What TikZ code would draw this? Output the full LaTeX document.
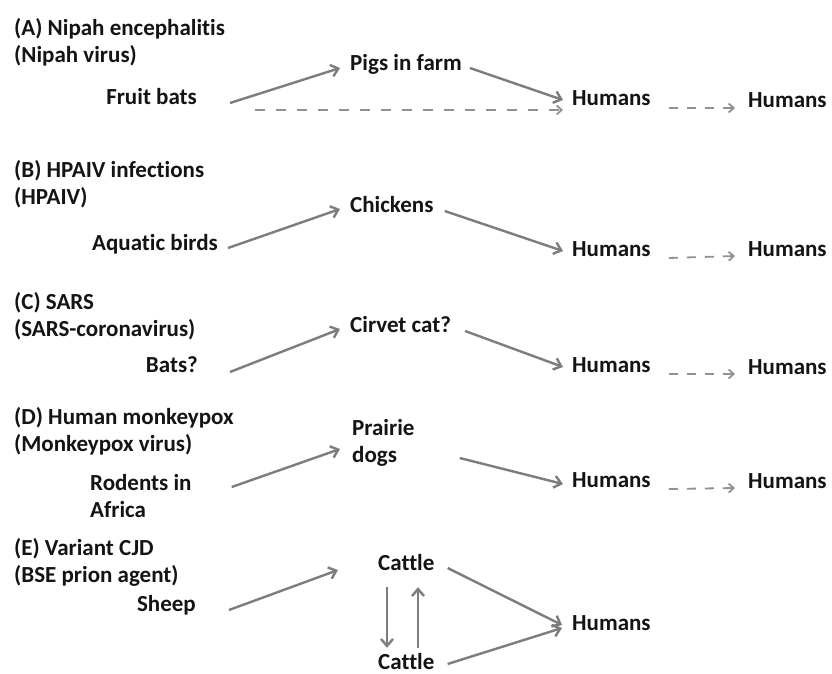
\documentclass[tikz,border=0pt]{standalone}
\usepackage{fontspec}
\setmainfont{Carlito}[Ligatures={NoCommon}]
\usepackage{tikz}
\usetikzlibrary{arrows.meta}
\definecolor{arrgray}{RGB}{125,125,125}
\definecolor{txtdark}{RGB}{20,20,20}
\tikzset{
  lbl/.style={inner sep=0pt,text=txtdark,font=\fontsize{23}{27}\selectfont\bfseries,
              text height=15pt,text depth=5pt},
  lbltwo/.style={inner sep=0pt,text=txtdark,font=\fontsize{23}{27}\selectfont\bfseries,align=left},
  arr/.style={-{Straight Barb[length=7pt,width=12pt]},line width=2.4pt,arrgray},
  dasharr/.style={-{Straight Barb[length=5pt,width=9pt]},line width=1.8pt,arrgray!85,
                  dash pattern=on 9pt off 9pt}
}

\begin{document}
\begin{tikzpicture}[x=1pt,y=-1pt]
  \fill[white] (0,0) rectangle (832,674);
  \useasboundingbox (0,0) rectangle (832,674);
  % (A)
  \node[lbltwo,anchor=west] (titA) at (14,42) {(A) Nipah encephalitis\\(Nipah virus)};
  \node[lbl,anchor=east] (batsA) at (197,100) {Fruit bats};
  \node[lbl,anchor=west] (pigs) at (350,66) {Pigs in farm};
  \node[lbl,anchor=west] (humA1) at (572,101) {Humans};
  \node[lbl,anchor=west] (humA2) at (748,103) {Humans};
  % (B)
  \node[lbltwo,anchor=west] (titB) at (14,184) {(B) HPAIV infections\\(HPAIV)};
  \node[lbl,anchor=east] (aqua) at (218,245) {Aquatic birds};
  \node[lbl,anchor=west] (chick) at (350,207) {Chickens};
  \node[lbl,anchor=west] (humB1) at (572,251) {Humans};
  \node[lbl,anchor=west] (humB2) at (748,251) {Humans};
  % (C)
  \node[lbltwo,anchor=west] (titC) at (14,316) {(C) SARS\\(SARS-coronavirus)};
  \node[lbl,anchor=east] (batsC) at (198,367) {Bats?};
  \node[lbl,anchor=west] (civet) at (350,327) {Cirvet cat?};
  \node[lbl,anchor=west] (humC1) at (572,367) {Humans};
  \node[lbl,anchor=west] (humC2) at (748,369) {Humans};
  % (D)
  \node[lbltwo,anchor=west] (titD) at (14,431) {(D) Human monkeypox\\(Monkeypox virus)};
  \node[lbltwo,anchor=west] (rodents) at (90,496) {Rodents in\\Africa};
  \node[lbltwo,anchor=west] (prairie) at (352,443) {Prairie\\dogs};
  \node[lbl,anchor=west] (humD1) at (572,482) {Humans};
  \node[lbl,anchor=west] (humD2) at (748,483) {Humans};
  % (E)
  \node[lbltwo,anchor=west] (titE) at (14,562) {(E) Variant CJD\\(BSE prion agent)};
  \node[lbl,anchor=east] (sheep) at (196,606) {Sheep};
  \node[lbl,anchor=west] (cattleA) at (378,565) {Cattle};
  \node[lbl,anchor=west] (cattleB) at (378,664) {Cattle};
  \node[lbl,anchor=west] (humE) at (572,625) {Humans};

  \draw[arr] ([xshift=33pt,yshift=-3pt]batsA.east) -- ([xshift=-10pt,yshift=-2pt]pigs.west);
  \draw[arr] ([xshift=8pt,yshift=-2pt]pigs.east) -- ([xshift=-9pt,yshift=1pt]humA1.west);
  \draw[dasharr,dash pattern=on 10pt off 11pt] ([xshift=58pt,yshift=-10pt]batsA.east)
    -- ([xshift=-9pt,yshift=-9pt]humA1.west);
  \draw[arr] ([xshift=10pt,yshift=-3pt]aqua.east) -- ([xshift=-10pt,yshift=-2pt]chick.west);
  \draw[arr] ([xshift=11pt,yshift=-4pt]chick.east) -- ([xshift=-9pt]humB1.west);
  \draw[arr] ([xshift=32pt,yshift=-5pt]batsC.east) -- ([xshift=-10pt,yshift=-2pt]civet.west);
  \draw[arr] ([xshift=14pt,yshift=-4pt]civet.east) -- ([xshift=-9pt]humC1.west);
  \draw[arr] ([xshift=40pt,yshift=9pt]rodents.east) -- ([xshift=-12pt,yshift=-6pt]prairie.west);
  \draw[arr] ([xshift=45pt,yshift=-15pt]prairie.east) -- ([xshift=-9pt,yshift=-2pt]humD1.west);
  \foreach \s in {A,B,C,D}
    \draw[dasharr] ([xshift=18pt,yshift=-7pt]hum\s1.east) -- ([xshift=-13pt,yshift=-5pt]hum\s2.west);
  \draw[arr] ([xshift=33pt,yshift=-4pt]sheep.east) -- ([xshift=-40pt,yshift=-5pt]cattleA.west);
  \draw[arr] ([xshift=13pt,yshift=-3pt]cattleA.east) -- ([xshift=-10pt]humE.west);
  \draw[arr] ([xshift=13pt]cattleB.east) -- ([xshift=-10pt,yshift=-3pt]humE.west);
  \draw[arr] ([xshift=9pt,yshift=-12pt]cattleA.south west) -- ([xshift=9pt,yshift=6pt]cattleB.north west);
  \draw[arr] ([xshift=40pt,yshift=6pt]cattleB.north west) -- ([xshift=40pt,yshift=-12pt]cattleA.south west);
\end{tikzpicture}
\end{document}
